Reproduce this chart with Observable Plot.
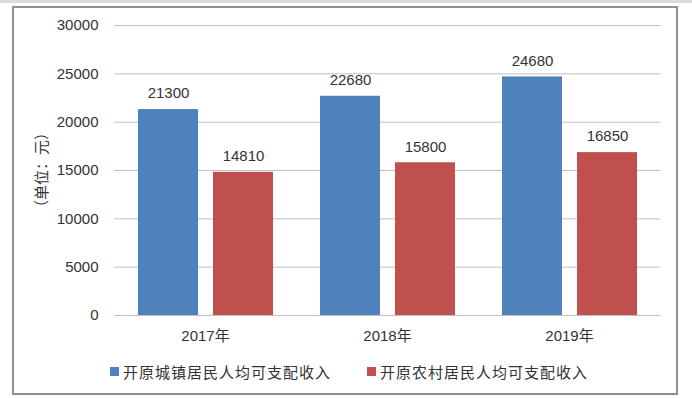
<!DOCTYPE html>
<html>
<head>
<meta charset="utf-8">
<script src="https://cdn.jsdelivr.net/npm/d3@7"></script>
<script src="https://cdn.jsdelivr.net/npm/@observablehq/plot@0.6"></script>
<style>
  html, body { margin: 0; padding: 0; background: #fff; }
  #page { position: relative; width: 692px; height: 398px; overflow: hidden; background: #fff; }
  #topstrip { position: absolute; left: 0; top: 0; width: 692px; height: 3px; background: #dcdcdc; }
  #frame { position: absolute; left: 12px; top: 6px; width: 662px; height: 385px; border: 2px solid #8f8f8f; box-sizing: content-box; }
  #chart { position: absolute; left: 0; top: 0; }
  #ylabel { position: absolute; left: 40px; top: 170px; transform: translate(-50%, -50%) rotate(-90deg);
            font: 15px "Noto Sans CJK SC", sans-serif; color: #333; white-space: nowrap; }
  #legend { position: absolute; left: 110px; top: 361px; display: flex; align-items: center;
            font: 15px "Noto Sans CJK SC", sans-serif; color: #333; letter-spacing: 1px; }
  .item { display: flex; align-items: center; margin-right: 36px; }
  .sw { width: 9px; height: 9px; margin-right: 4px; }
</style>
</head>
<body>
<div id="page">
  <div id="topstrip"></div>
  <div id="frame"></div>
  <div id="chart"></div>
  <div id="ylabel"></div>
  <div id="legend"></div>
</div>
<script>
const years = ["2017", "2018", "2019"];
const urban = [21300, 22680, 24680];
const rural = [14810, 15800, 16850];
const seriesNames = ["开原城镇居民人均可支配收入", "开原农村居民人均可支配收入"];
const seriesColors = ["#4F81BD", "#C0504D"];
const yTicks = [0, 5000, 10000, 15000, 20000, 25000, 30000];
const yLabel = "（单位：元）";

const data = [];
years.forEach((y, i) => {
  data.push({year: y, series: seriesNames[0], value: urban[i]});
  data.push({year: y, series: seriesNames[1], value: rural[i]});
});

const chart = Plot.plot({
  width: 692,
  height: 345,
  marginLeft: 114,
  marginRight: 32,
  marginTop: 25,
  marginBottom: 30,
  style: {fontFamily: "'Liberation Sans', 'Noto Sans CJK SC', sans-serif", fontSize: "15px", color: "#333", background: "transparent"},
  fx: {domain: years, padding: 0, label: null, axis: "bottom", tickSize: 0, tickPadding: 15, tickFormat: d => d + "年"},
  x: {domain: seriesNames, paddingInner: 0.2, paddingOuter: 0.31, axis: null},
  y: {domain: [0, 30000], ticks: yTicks, tickSize: 0, tickPadding: 16, label: null, tickFormat: d => String(d)},
  color: {domain: seriesNames, range: seriesColors},
  marks: [
    Plot.gridY(yTicks, {stroke: "#c0c0c0", strokeOpacity: 1, strokeWidth: 1}),
    Plot.barY(data, {fx: "year", x: "series", y: "value", fill: "series"}),
    Plot.text(data, {fx: "year", x: "series", y: "value", text: d => String(d.value), dy: -16, fontSize: 15, fill: "#333"})
  ]
});
document.getElementById("chart").appendChild(chart);
document.getElementById("ylabel").textContent = yLabel;

const legend = document.getElementById("legend");
seriesNames.forEach((name, i) => {
  const item = document.createElement("div");
  item.className = "item";
  const sw = document.createElement("div");
  sw.className = "sw";
  sw.style.background = seriesColors[i];
  const t = document.createElement("span");
  t.textContent = name;
  item.appendChild(sw);
  item.appendChild(t);
  legend.appendChild(item);
});
</script>
</body>
</html>
